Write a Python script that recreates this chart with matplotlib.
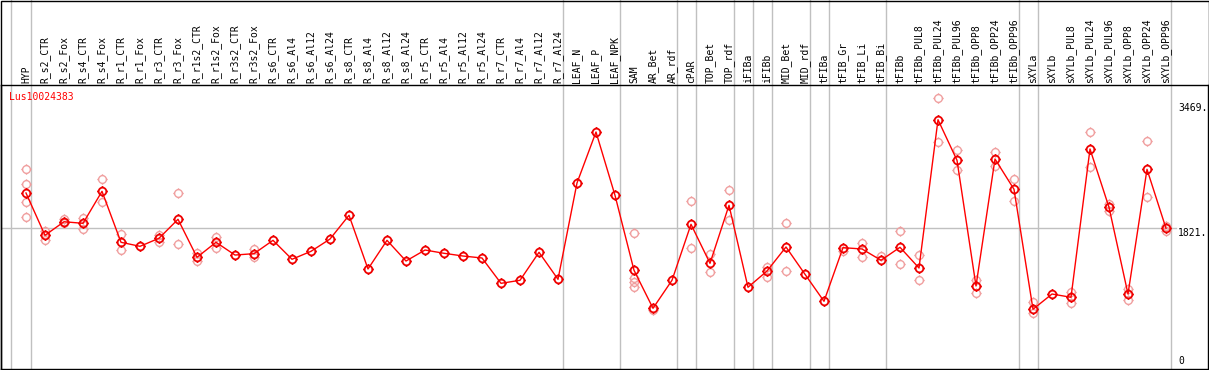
import numpy as np
import matplotlib
matplotlib.use("Agg")
import matplotlib.pyplot as plt
from matplotlib.path import Path
from matplotlib.patches import Rectangle

gene = "Lus10024383"

samples = ["HYP", "R_s2_CTR", "R_s2_Fox", "R_s4_CTR", "R_s4_Fox", "R_r1_CTR", "R_r1_Fox",
           "R_r3_CTR", "R_r3_Fox", "R_r1s2_CTR", "R_r1s2_Fox", "R_r3s2_CTR", "R_r3s2_Fox",
           "R_s6_CTR", "R_s6_Al4", "R_s6_Al12", "R_s6_Al24", "R_s8_CTR", "R_s8_Al4",
           "R_s8_Al12", "R_s8_Al24", "R_r5_CTR", "R_r5_Al4", "R_r5_Al12", "R_r5_Al24",
           "R_r7_CTR", "R_r7_Al4", "R_r7_Al12", "R_r7_Al24", "LEAF_N", "LEAF_P", "LEAF_NPK",
           "SAM", "AR_Bet", "AR_rdf", "cPAR", "TOP_Bet", "TOP_rdf", "iFIBa", "iFIBb",
           "MID_Bet", "MID_rdf", "tFIBa", "tFIB_Gr", "tFIB_Li", "tFIB_Bi", "tFIBb",
           "tFIBb_PUL8", "tFIBb_PUL24", "tFIBb_PUL96", "tFIBb_OPP8", "tFIBb_OPP24",
           "tFIBb_OPP96", "sXYLa", "sXYLb", "sXYLb_PUL8", "sXYLb_PUL24", "sXYLb_PUL96",
           "sXYLb_OPP8", "sXYLb_OPP24", "sXYLb_OPP96"]

means = [2281, 1723, 1902, 1881, 2303, 1631, 1578, 1684, 1934, 1433, 1631, 1463, 1481,
         1657, 1407, 1512, 1674, 1987, 1279, 1657, 1384, 1529, 1486, 1450, 1424,
         1090, 1130, 1499, 1143, 2413, 3085, 2250,
         1262, 761, 1130, 1868, 1354, 2119, 1038, 1252, 1569, 1209, 853, 1560, 1543,
         1394, 1565, 1292, 3247, 2712, 1055, 2729, 2330, 748, 949, 906, 2861, 2092,
         949, 2593, 1815]

reps = [[2593, 2395, 2158, 1960], [1784, 1661], [1934, 1889], [1955, 1806], [2461, 2158],
        [1736, 1533], [], [1731, 1635], [2277, 1604], [1486, 1388], [1701, 1552], [],
        [1543, 1433], [], [], [], [], [], [], [], [], [], [], [], [], [], [], [], [],
        [], [], [],
        [1757, 1156, 1103, 1045], [738], [], [2171, 1552], [1473, 1235], [2316, 1921],
        [], [1309, 1177], [1881, 1249], [], [], [1520], [1622, 1441], [1454],
        [1776, 1341], [1459, 1134], [3529, 2949], [2844, 2580], [1134, 966],
        [2817, 2641], [2461, 2179], [840, 695], [], [980, 831], [3081, 2620],
        [2136, 2044], [1015, 874], [2962, 2224], [1846, 1784]]

# group separators sit just right of these samples
groups_end = [0, 28, 31, 34, 35, 37, 38, 39, 41, 42, 45, 52, 53, 60]

ticks = [3469, 1821, 0]

# circle with four little stubs
t = np.linspace(0, 2 * np.pi, 41)
verts = [(np.cos(a), np.sin(a)) for a in t]
codes = [Path.MOVETO] + [Path.LINETO] * 40
for dx, dy in [(1, 0), (-1, 0), (0, 1), (0, -1)]:
    verts += [(dx * 1.0, dy * 1.0), (dx * 1.35, dy * 1.35)]
    codes += [Path.MOVETO, Path.LINETO]
mk = Path(verts, codes)

W, H = 1209, 370
fig = plt.figure(figsize=(W / 100, H / 100), dpi=100)
ax = fig.add_axes([1 / W, 1 / H, 1207 / W, 284 / H])

x = np.arange(len(samples))
ax.set_xlim((1 - 26) / 19, (1208 - 26) / 19)
ax.set_ylim(-3 * 13.184, 281 * 13.184)
ax.set_xticks([])
ax.set_yticks([])
for s in ax.spines.values():
    s.set_linewidth(1.0)

gray = "#c0c0c0"
ax.axhline(1821, xmax=(1176 - 1) / 1207, color=gray, lw=1.0, zorder=1)
for g in [-0.79] + [e + 0.24 for e in groups_end]:
    ax.axvline(g, ymin=0, ymax=1 + 85 / 284, color=gray, lw=1.0, clip_on=False, zorder=1)

for i, r in enumerate(reps):
    if r:
        ax.plot([i] * len(r), r, linestyle="none", marker=mk, markersize=7.5,
                markeredgewidth=1.0, markerfacecolor="none", markeredgecolor="#f0a0a0",
                zorder=2)

ax.plot(x, means, color="red", lw=1.0, marker=mk, markersize=7.5,
        markeredgewidth=1.3, markerfacecolor="none", markeredgecolor="#ee0000", zorder=3)

mono = "DejaVu Sans Mono"
for i, name in enumerate(samples):
    ax.text(i, 1 + 2 / 284, name, rotation=90, ha="center", va="bottom",
            fontsize=7, family=mono, transform=ax.get_xaxis_transform(), clip_on=False)

ax.text(-0.9, (366 - 97) * 13.184, gene, color="red", fontsize=7, family=mono,
        ha="left", va="center")

xl = (1178 - 26) / 19
ax.text(xl, 3469, "%d." % ticks[0], fontsize=7, family=mono, ha="left", va="top")
ax.text(xl, 1821, "%d." % ticks[1], fontsize=7, family=mono, ha="left", va="top")
ax.text(xl, 0, "%d" % ticks[2], fontsize=7, family=mono, ha="left", va="bottom")

fig.add_artist(Rectangle((0.5 / W, 0.5 / H), 1 - 1 / W, 1 - 1 / H, transform=fig.transFigure,
                         fill=False, edgecolor="black", lw=1.0))

fig.savefig("out.png", dpi=100)
